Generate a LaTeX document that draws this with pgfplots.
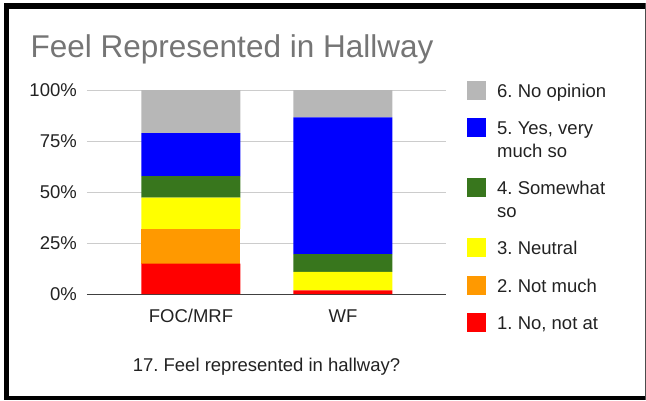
\documentclass[border=0pt]{standalone}
\usepackage{pgfplots}
\pgfplotsset{compat=1.18}
\usepackage{fontspec}
\setmainfont{Liberation Sans}
\definecolor{cgray}{HTML}{B7B7B7}
\definecolor{cblue}{HTML}{0000FF}
\definecolor{cgreen}{HTML}{38761D}
\definecolor{cyellow}{HTML}{FFFF00}
\definecolor{corange}{HTML}{FF9900}
\definecolor{cred}{HTML}{FF0000}
\definecolor{gridc}{HTML}{CCCCCC}
\definecolor{titlec}{HTML}{757575}
\definecolor{txtc}{HTML}{222222}
\newcommand\txtfont{\fontsize{18.5}{22.5}\selectfont}
\newcommand\one[1]{\strut #1}
\newcommand\two[2]{\parbox[t]{130pt}{\strut #1\strut\\\strut #2\strut}}
\begin{document}
\frenchspacing
\begin{tikzpicture}[x=1pt,y=1pt]
\useasboundingbox (-87,-106) rectangle (559,294);
\fill[black] (-83,291) rectangle (-78,-106);
\fill[black] (-83,291) rectangle (559,285);
\fill[black] (-83,-102) rectangle (559,-106);
\fill[black!70] (557.5,291) rectangle (559,-106);
\node[anchor=base west, inner sep=0pt, font=\fontsize{31.5}{36}\selectfont, text=titlec] at (-56.5,237) {Feel Represented in Hallway};
\begin{axis}[
  at={(0,0)}, anchor=south west,
  scale only axis, width=359pt, height=204pt,
  xmin=-0.684, xmax=1.678, ymin=0, ymax=100,
  ybar stacked, bar width=99pt,
  xtick={0,1}, xticklabels={FOC/MRF,WF},
  ytick={0,25,50,75,100}, yticklabels={0\%,25\%,50\%,75\%,100\%},
  extra y ticks={0}, extra y tick labels={},
  extra y tick style={grid style={draw=black!75, line width=1pt}},
  major tick length=0pt,
  axis line style={draw=none},
  ymajorgrids, grid style={draw=gridc, line width=1pt},
  tick label style={font=\txtfont, text=txtc, inner sep=0pt},
  xticklabel style={anchor=base, yshift=-28pt},
  yticklabel style={anchor=east, xshift=-10pt},
  xlabel={17. Feel represented in hallway?},
  xlabel style={at={(axis description cs:0.5,0)}, anchor=base, yshift=-77.7pt, inner sep=0pt, font=\txtfont, text=txtc},
  legend cell align=left,
  legend style={at={(axis description cs:1.0577,1.0456)}, anchor=north west, draw=none, fill=none, inner sep=0pt, outer sep=0pt, row sep=14.35pt, column sep=11.5pt, nodes={inner sep=0pt, text depth=, text height=, font=\txtfont, text=txtc}, cells={anchor=base west}},
  reverse legend,
  sw/.style={draw=none, legend image code/.code={\fill[##1] (0pt,-2.6pt) rectangle (19pt,16.4pt);}},
]
\addplot[sw, fill=cred] coordinates {(0,14.9) (1,1.8)};
\addlegendentry{\one{1. No, not at}}
\addplot[sw, fill=corange] coordinates {(0,17.0) (1,0)};
\addlegendentry{\one{2. Not much}}
\addplot[sw, fill=cyellow] coordinates {(0,15.3) (1,9.1)};
\addlegendentry{\one{3. Neutral}}
\addplot[sw, fill=cgreen] coordinates {(0,10.6) (1,8.7)};
\addlegendentry{\two{4. Somewhat}{so}}
\addplot[sw, fill=cblue] coordinates {(0,21.1) (1,67.0)};
\addlegendentry{\two{5. Yes, very}{much so}}
\addplot[sw, fill=cgray] coordinates {(0,21.1) (1,13.4)};
\addlegendentry{\one{6. No opinion}}
\end{axis}
\end{tikzpicture}
\end{document}
